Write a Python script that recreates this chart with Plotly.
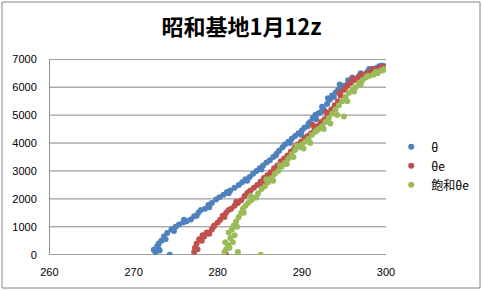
import plotly.graph_objects as go

theta_x = [272.4, 272.6, 272.8, 272.9, 273.0, 273.3, 273.6, 274.0, 274.3, 274.5, 275.0, 275.4, 275.9, 276.3,
           276.8, 277.2, 277.7, 278.0, 278.5, 278.9, 279.3, 279.8, 280.2, 280.7, 281.1, 281.5, 282.0, 282.5,
           282.9, 283.3, 283.8, 284.2, 284.6, 285.0, 285.4, 285.8, 286.2, 286.6, 287.0, 287.3, 287.7, 288.0,
           288.4, 288.8, 289.2, 289.6, 290.0, 290.3, 290.7, 291.0, 291.3, 291.6, 291.9, 292.2, 292.6, 293.0,
           293.3, 293.6, 294.0, 294.3, 294.7, 295.0, 295.4, 295.8, 296.3, 296.8, 297.3, 297.8, 298.3, 298.8,
           299.2, 299.5, 299.8,
           273.1, 273.8, 274.8, 276.0, 277.5, 279.0, 281.3, 283.5, 285.2, 286.9, 288.6, 289.9, 290.8, 291.7,
           292.4, 293.1, 293.8, 294.5, 295.5, 296.0, 297.0, 298.0, 299.0, 299.6]
theta_y = [180, 100, 300, 250, 400, 500, 650, 780, 0, 900, 1000, 1080, 1150, 1200,
           1260, 1380, 1500, 1600, 1650, 1780, 1850, 1980, 2060, 2150, 2250, 2300, 2400, 2500,
           2600, 2700, 2780, 2900, 3000, 3100, 3200, 3300, 3380, 3500, 3620, 3720, 3850, 3950,
           4050, 4150, 4250, 4350, 4450, 4550, 4600, 4750, 4900, 5000, 5050, 5100, 5200, 5400,
           5550, 5700, 5800, 5900, 6000, 6050, 6100, 6200, 6300, 6400, 6450, 6550, 6600, 6680,
           6750, 6780, 6750,
           150, 550, 850, 1250, 1400, 1700, 2200, 2650, 3050, 3550, 4000, 4300, 4700, 4850,
           5300, 5600, 5650, 6100, 6250, 6350, 6500, 6650, 6700, 6700]

thetae_x = [277.2, 277.3, 277.5, 277.8, 278.1, 278.4, 278.7, 279.0, 279.3, 279.6, 280.0, 280.3, 280.6, 281.0,
            281.0, 281.3, 281.6, 282.0, 282.4, 282.8, 283.2, 283.5, 283.9, 284.3, 284.7, 285.1, 285.5, 285.9,
            286.3, 286.7, 287.1, 287.5, 287.9, 288.3, 288.7, 289.1, 289.5, 289.9, 290.3, 290.7, 291.1, 291.5,
            291.9, 292.3, 292.7, 293.1, 293.5, 293.9, 294.3, 294.6, 295.0, 295.4, 295.8, 296.2, 296.7, 297.2,
            297.7, 298.2, 298.7, 299.2, 299.6, 299.9,
            277.6, 278.2, 279.5, 280.8, 282.2, 283.7, 285.3, 286.5, 288.1, 289.3, 290.5, 291.3, 292.1, 292.9,
            293.7, 294.5, 295.2, 296.0, 297.0, 298.4, 299.4]
thetae_y = [100, 250, 400, 550, 500, 650, 800, 750, 900, 1050, 1150, 1250, 1400, 1500,
            0, 1600, 1650, 1750, 1850, 1950, 2100, 2200, 2300, 2400, 2500, 2620, 2750, 2850,
            2950, 3100, 3200, 3350, 3450, 3550, 3700, 3800, 3950, 4050, 4150, 4250, 4350, 4500,
            4600, 4750, 4850, 5000, 5200, 5350, 5500, 5700, 5900, 6050, 6150, 6250, 6350, 6400,
            6500, 6550, 6600, 6700, 6730, 6700,
            200, 700, 1000, 1350, 1900, 2250, 2550, 2850, 3350, 3900, 4200, 4650, 4650, 5100,
            5200, 5800, 6000, 6300, 6450, 6650, 6650]

sat_x = [280.8, 281.0, 280.9, 281.2, 281.5, 281.3, 281.7, 282.0, 282.4, 281.9, 282.2, 282.5, 282.8, 283.0,
         283.3, 283.6, 284.0, 284.4, 284.8, 285.1, 285.2, 285.6, 286.0, 286.4, 286.8, 287.2, 287.6, 288.0,
         288.4, 288.8, 289.2, 289.6, 290.0, 290.4, 290.8, 291.2, 291.6, 292.0, 292.4, 292.8, 293.2, 293.6,
         294.0, 294.4, 295.0, 294.8, 295.2, 295.6, 296.0, 296.4, 296.8, 297.2, 297.6, 298.0, 298.5, 299.0,
         299.4, 299.8,
         281.4, 281.8, 282.3, 283.1, 283.9, 284.6, 285.8, 286.6, 287.4, 288.2, 289.0, 289.4, 290.2, 291.0,
         291.8, 292.6, 293.4, 294.2, 295.4, 296.2, 297.0, 297.8, 298.8, 299.6]
sat_y = [100, 200, 450, 350, 600, 800, 900, 700, 100, 1050, 1200, 1350, 1500, 1650,
         1750, 1850, 1950, 2050, 2200, 0, 2350, 2450, 2600, 2750, 2900, 3000, 3150, 3300,
         3450, 3600, 3750, 3850, 3950, 4050, 4150, 4300, 4400, 4500, 4600, 4750, 4900, 5050,
         5200, 5350, 4950, 5500, 5650, 5800, 5900, 6000, 6150, 6250, 6350, 6400, 6450, 6500,
         6600, 6650,
         250, 450, 1000, 1500, 2100, 2050, 2700, 2650, 3200, 3250, 3500, 3900, 3800, 4000,
         4450, 4500, 4700, 5000, 5500, 5850, 6100, 6400, 6550, 6600]

y_ticks = [0, 1000, 2000, 3000, 4000, 5000, 6000, 7000]
x_ticks = [260, 270, 280, 290, 300]
x_range = [259.95, 300]
y_range = [-10, 7010]

series_names = ["θ", "θe", "飽和θe"]
colors = ["#4F81BD", "#C0504D", "#9BBB59"]
grid_color = "#868686"

fig = go.Figure()

# gridlines + vertical axis line, drawn in data space beneath the markers
gx, gy = [], []
for yv in y_ticks:
    gx += [x_ticks[0], x_ticks[-1], None]
    gy += [yv, yv, None]
gx += [x_ticks[0], x_ticks[0]]
gy += [y_ticks[0], y_ticks[-1]]
fig.add_trace(go.Scatter(x=gx, y=gy, mode="lines", line=dict(color=grid_color, width=1),
                         showlegend=False, hoverinfo="skip"))

for name, xs, ys, c in zip(series_names, [theta_x, thetae_x, sat_x], [theta_y, thetae_y, sat_y], colors):
    fig.add_trace(go.Scatter(x=xs, y=ys, mode="markers", name=name,
                             marker=dict(color=c, size=6, line=dict(width=0))))

# outer chart border
fig.add_shape(type="rect", xref="paper", yref="paper",
              x0=(2 - 49) / 337, x1=(480 - 49) / 337,
              y0=(255 - 288) / 196, y1=(255 - 2) / 196,
              line=dict(color="#868686", width=1), fillcolor="rgba(0,0,0,0)", layer="above")

font_family = "Noto Sans CJK JP, DejaVu Sans, sans-serif"
fig.update_layout(
    width=483, height=291,
    margin=dict(l=49, r=97, t=59, b=36, autoexpand=False),
    paper_bgcolor="white", plot_bgcolor="white",
    font=dict(family=font_family, size=11, color="black"),
    title=dict(text="<b>昭和基地1月12z</b>", x=0.5, xanchor="center", y=0.905, yanchor="middle",
               font=dict(size=22, color="black", family=font_family)),
    showlegend=True,
    legend=dict(xref="container", x=0.81, xanchor="left", yref="container", y=0.43, yanchor="middle",
                font=dict(size=12), bgcolor="rgba(0,0,0,0)", itemwidth=30, tracegroupgap=0),
    xaxis=dict(range=x_range, tickvals=x_ticks, showgrid=False, zeroline=False,
               showline=False, ticks="outside", ticklen=7, tickcolor="rgba(0,0,0,0)",
               tickfont=dict(size=11, family="Liberation Sans, Arial")),
    yaxis=dict(range=y_range, tickvals=y_ticks, showgrid=False,
               zeroline=False, showline=False,
               ticks="outside", ticklen=9, tickcolor="rgba(0,0,0,0)",
               tickfont=dict(size=11, family="Liberation Sans, Arial")),
)
fig.write_html("out.html")
